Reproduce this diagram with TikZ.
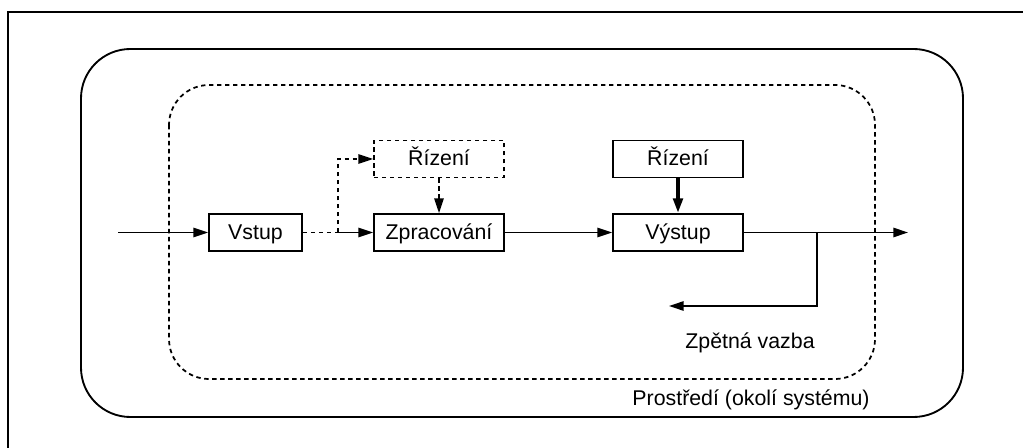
\documentclass[tikz,border=0pt]{standalone}
\usepackage{fontspec}
\setmainfont{Liberation Sans}
\usetikzlibrary{arrows.meta}
\begin{document}
\begin{tikzpicture}[x=0.75pt,y=-0.75pt,
  font=\fontsize{16}{19}\selectfont,
  blk/.style={draw,line width=1.3pt,rectangle,minimum height=27.75pt,text height=13pt,text depth=3pt,inner sep=0pt},
  dsh/.style={dash pattern=on 3.3pt off 2.7pt},
  con/.style={line width=1.3pt,-{Triangle[length=11pt,width=7pt]}},
  plain/.style={line width=1.3pt}]
\useasboundingbox (0,0) rectangle (1023,448);
% outer frame (extends past the picture)
\draw[line width=1.4pt] (8,448) -- (8,12) -- (1023,12);
% environment
\draw[line width=1.4pt,rounded corners=37pt] (81,49) rectangle (963,417);
% system boundary
\draw[line width=1.3pt,dsh,rounded corners=30pt] (169,85) rectangle (875,379);
% blocks
\node[blk,minimum width=69.75pt] (vst) at (255.5,232.5) {Vstup};
\node[blk,minimum width=97.5pt] (zpr) at (439,232.5) {Zpracování};
\node[blk,dsh,minimum width=97.5pt] (riz1) at (439,159) {Řízení};
\node[blk,minimum width=97.5pt] (riz2) at (678,159) {Řízení};
\node[blk,minimum width=97.5pt] (vys) at (678,232.5) {Výstup};
% coordinates
\coordinate (in) at (118,232.5);
\coordinate (split) at (338,232.5);
\coordinate (out) at (908,232.5);
\coordinate (br) at (817,232.5);
\coordinate (fb) at (669,306);
% connectors
\draw[con] (in) -- (vst);
\draw[plain,dsh] (vst.east) -- (split);
\draw[con,dsh] (split) |- (riz1.west);
\draw[con] (split) -- (zpr.west);
\draw[con,dsh] (riz1) -- (zpr);
\draw[con] (zpr) -- (vys);
\draw[line width=2.8pt,-{Triangle[length=11pt,width=7pt]}] (riz2) -- (vys);
\draw[con] (vys.east) -- (out);
\draw[con] (br) |- (fb);
% labels
\node[anchor=base] (zv) at (750,349) {Zpětná vazba};
\node[anchor=base] (pr) at (751,405) {Prostředí (okolí systému)};
\end{tikzpicture}
\end{document}
